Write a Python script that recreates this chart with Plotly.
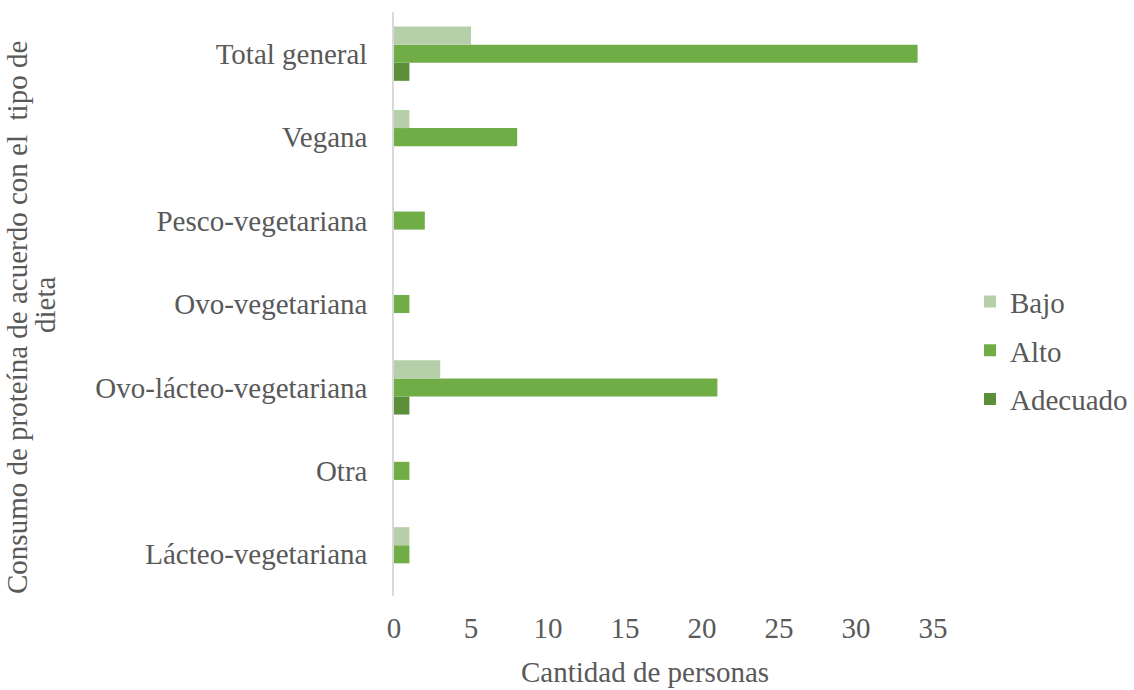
import plotly.graph_objects as go

categories = ["Lácteo-vegetariana", "Otra", "Ovo-lácteo-vegetariana", "Ovo-vegetariana",
              "Pesco-vegetariana", "Vegana", "Total general"]
bajo = [1, 0, 3, 0, 0, 1, 5]
alto = [1, 1, 21, 1, 2, 8, 34]
adecuado = [0, 0, 1, 0, 0, 0, 1]

FONT = "Liberation Serif, Times New Roman, serif"
GRAY = "#595959"
FS = 29
PL, PW, PB, PH = 394, 539, 596, 584  # plot area in pixels (used only for paper-coordinate placement)

fig = go.Figure()
fig.add_trace(go.Bar(y=categories, x=adecuado, name="Adecuado", orientation="h", legendgroup="c",
                     marker=dict(color="#5B8F3A", line=dict(width=0)), legendrank=3))
fig.add_trace(go.Bar(y=categories, x=alto, name="Alto", orientation="h", legendgroup="b",
                     marker=dict(color="#70AD47", line=dict(width=0)), legendrank=2))
fig.add_trace(go.Bar(y=categories, x=bajo, name="Bajo", orientation="h", legendgroup="a",
                     marker=dict(color="#B5D0A8", line=dict(width=0)), legendrank=1))

fig.update_layout(
    width=1134, height=690,
    margin=dict(l=394, r=201, t=12, b=94, autoexpand=False),
    barmode="group", bargap=0.35, bargroupgap=0,
    paper_bgcolor="white", plot_bgcolor="white",
    font=dict(family=FONT, size=FS, color=GRAY),
    showlegend=True,
    legend=dict(x=(970 - PL) / PW, y=0.42, xanchor="left", yanchor="middle",
                font=dict(family=FONT, size=FS, color=GRAY),
                itemwidth=30, tracegroupgap=8, bgcolor="rgba(0,0,0,0)"),
    xaxis=dict(range=[0, 35], dtick=5, tick0=0, showgrid=False, zeroline=False,
               showline=False, ticks="", ticklabelstandoff=12, automargin=False,
               tickfont=dict(family=FONT, size=FS, color=GRAY)),
    yaxis=dict(showgrid=False, zeroline=False, showline=True, linecolor="#D9D9D9", linewidth=1.5,
               ticks="", ticklabelstandoff=19, automargin=False,
               tickfont=dict(family=FONT, size=FS, color=GRAY)),
    annotations=[
        dict(text="Cantidad de personas",
             xref="paper", yref="paper",
             x=(645 - PL) / PW, y=(PB - 672) / PH, xanchor="center", yanchor="middle",
             showarrow=False, font=dict(family=FONT, size=FS, color=GRAY)),
        dict(text="Consumo de proteína de acuerdo con el  tipo de",
             textangle=-90, xref="paper", yref="paper",
             x=(17 - PL) / PW, y=(PB - 318) / PH, xanchor="center", yanchor="middle",
             showarrow=False, font=dict(family=FONT, size=FS, color=GRAY)),
        dict(text="dieta",
             textangle=-90, xref="paper", yref="paper",
             x=(45 - PL) / PW, y=(PB - 305) / PH, xanchor="center", yanchor="middle",
             showarrow=False, font=dict(family=FONT, size=FS, color=GRAY)),
    ],
)

fig.write_html("out.html")
